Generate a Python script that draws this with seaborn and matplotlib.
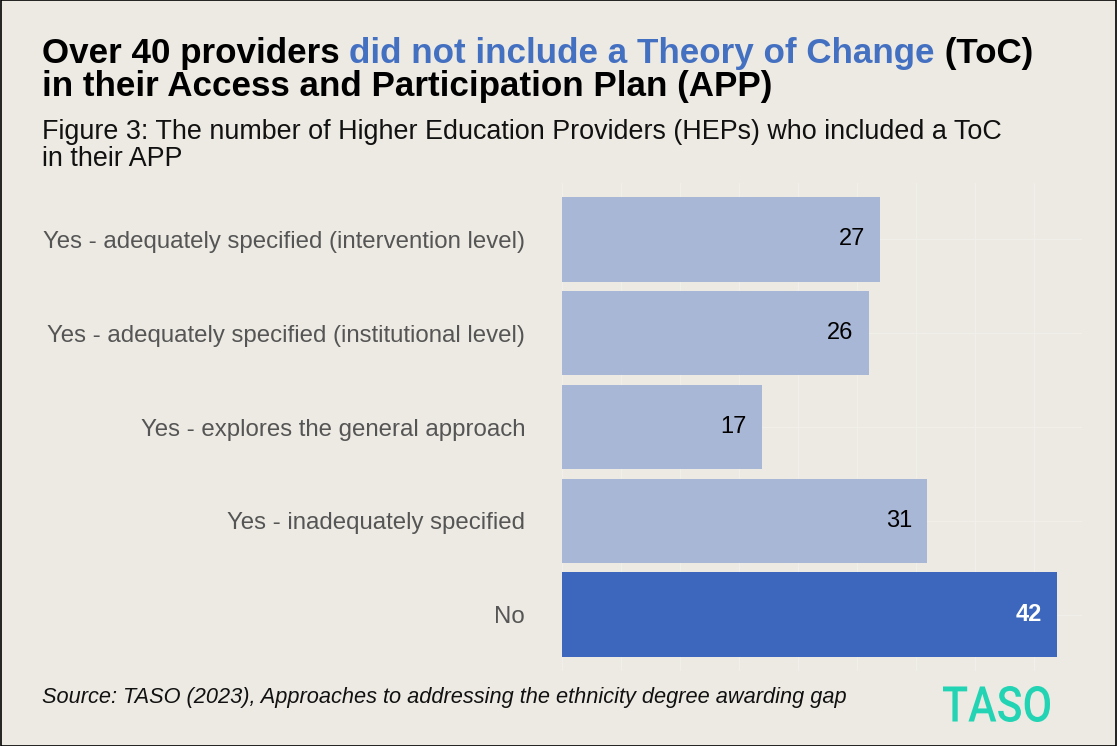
import matplotlib
matplotlib.use("Agg")
import matplotlib.pyplot as plt
import matplotlib.patches as mpatches
from matplotlib.textpath import TextPath
from matplotlib.font_manager import FontProperties
from matplotlib.transforms import Affine2D, IdentityTransform
import seaborn as sns
import pandas as pd

# Data
categories = [
    "Yes - adequately specified (intervention level)",
    "Yes - adequately specified (institutional level)",
    "Yes - explores the general approach",
    "Yes - inadequately specified",
    "No",
]
counts = [27, 26, 17, 31, 42]
groups = ["Yes", "Yes", "Yes", "Yes", "No"]

BG = "#EDEAE3"
LIGHT = "#A8B7D6"
DARK = "#3C67BD"
TITLE_BLUE = "#4470C2"

sns.set_theme(style="white")
plt.rcParams["font.family"] = ["Liberation Sans", "DejaVu Sans"]

df = pd.DataFrame({"category": categories, "count": counts, "group": groups})

W, H = 1117, 746
fig = plt.figure(figsize=(W / 100, H / 100), dpi=100, facecolor=BG)
ax = fig.add_axes([0.5031, 0.1005, 0.4655, 0.6542])
ax.set_facecolor(BG)

sns.barplot(
    data=df, y="category", x="count", hue="group",
    palette={"Yes": LIGHT, "No": DARK}, orient="h", saturation=1,
    width=0.9, dodge=False, legend=False, ax=ax, zorder=2,
    edgecolor="none", linewidth=0,
)

ax.set_xlim(0, 44.1)
ax.set_ylim(4.6, -0.6)

# faint grid
ax.set_xticks(range(0, 45, 5))
ax.grid(True, axis="both", color="#F1EFEA", linewidth=0.9, zorder=0)
ax.set_axisbelow(True)
for s in ax.spines.values():
    s.set_visible(False)
ax.set_xlabel("")
ax.set_ylabel("")
ax.tick_params(axis="x", length=0, labelbottom=False)
ax.tick_params(axis="y", length=0, pad=26.5, labelsize=17.3, labelcolor="#555555")

# value labels inside bars
for i, (v, g) in enumerate(zip(counts, groups)):
    is_no = g == "No"
    ax.annotate(
        str(v), xy=(v, i), xytext=(-11, 0), textcoords="offset points",
        ha="right", va="center", fontsize=17,
        color="white" if is_no else "black",
        fontweight="bold" if is_no else "normal", zorder=3,
    )

# Title in three colour runs
x0 = 42 / W
TS = 25.2
t1 = fig.text(x0, 1 - 70 / H, "Over 40 providers ", fontsize=TS, fontweight="bold",
              color="black", va="bottom", ha="left")
t2 = fig.text(0, 0, "did not include a Theory of Change", fontsize=TS, fontweight="bold",
              color=TITLE_BLUE, va="bottom", ha="left")
t3 = fig.text(0, 0, " (ToC)", fontsize=TS, fontweight="bold",
              color="black", va="bottom", ha="left")
fig.canvas.draw()
r = fig.canvas.get_renderer()
bb1 = t1.get_window_extent(r).transformed(fig.transFigure.inverted())
t2.set_position((bb1.x1, bb1.y0))
fig.canvas.draw()
bb2 = t2.get_window_extent(r).transformed(fig.transFigure.inverted())
t3.set_position((bb2.x1, bb2.y0))

fig.text(x0, 1 - 103 / H, "in their Access and Participation Plan (APP)", fontsize=TS,
         fontweight="bold", color="black", va="bottom", ha="left")

fig.text(x0, 1 - 139 / H,
         "Figure 3: The number of Higher Education Providers (HEPs) who included a ToC",
         fontsize=19.4, color="#111111", va="baseline", ha="left")
fig.text(x0, 1 - 166 / H, "in their APP", fontsize=19.4, color="#111111",
         va="baseline", ha="left")

fig.text(x0, 1 - 703 / H,
         "Source: TASO (2023), Approaches to addressing the ethnicity degree awarding gap",
         fontsize=15.7, style="italic", color="#111111", va="baseline", ha="left")

# TASO wordmark, fitted into its box (pixel coordinates, origin bottom-left)
logo = TextPath((0, 0), "TASO", size=100,
                prop=FontProperties(family="Roboto", weight="medium"))
ext = logo.get_extents()
lx0, lx1, ly_top, ly_bot = 943, 1050, 686, 722
sx = (lx1 - lx0) / ext.width
sy = (ly_bot - ly_top) / ext.height
tr = (Affine2D().translate(-ext.x0, -ext.y0).scale(sx, sy)
      .translate(lx0, H - ly_bot) + IdentityTransform())
fig.patches.append(mpatches.PathPatch(logo, transform=tr, facecolor="#22D4B3",
                                      edgecolor="none"))

# outer frame
fig.patches.append(mpatches.Rectangle((0.0005, 0.0005), 0.999, 0.999, transform=fig.transFigure,
                                      fill=False, edgecolor="black", linewidth=1.2))

fig.savefig("out.png", dpi=100, facecolor=BG)
